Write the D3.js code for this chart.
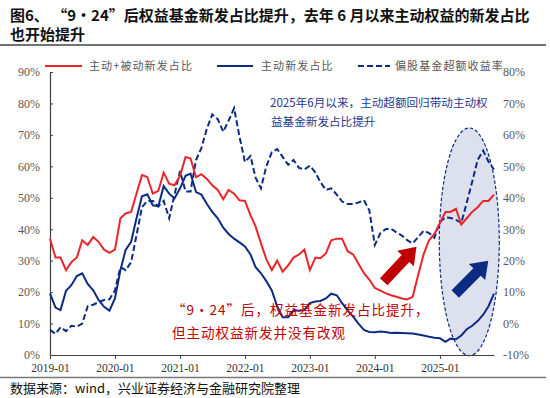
<!DOCTYPE html>
<html>
<head>
<meta charset="utf-8">
<script src="https://cdn.jsdelivr.net/npm/d3@7"></script>
<style>
body{margin:0;background:#fff}
svg{display:block}
</style>
</head>
<body>
<div id="chart"></div>
<script>
// monthly categories 2019-01 .. 2025-11
var months = d3.timeMonth.range(new Date(2019,0,1), new Date(2025,11,1));

// 主动+被动新发占比 (left axis, %)
var totalShare = [37,31,31,27,29.5,31,36.5,35,37.5,36,33.5,32.5,
    33.5,43.5,45,45.5,51.3,57.2,56.6,51.3,52.2,58,54.5,54,
    57,63,62.5,56.5,57.5,56,54,52.5,49.5,52.5,51.3,49.2,
    49,44.5,41,35.5,30.5,27,30,26.5,28.5,31,32,33.5,
    27,31,30.8,32.3,36.5,37,37,33,32,29,26,24,
    21.3,20.5,19.7,19,18.5,18,17.7,18.5,25.5,32,36.5,38.5,
    42,45.5,45.5,46.5,41.5,43.5,45.5,47,49,49,51];

// 主动新发占比 (left axis, %)
var activeShare = [19.6,15.1,14.3,20.4,22.2,25.1,26,22.6,20.6,17.5,15.3,14.1,
    18,27,33.4,36,43.4,50.5,51.1,47.6,47.3,53.7,51.3,49.8,
    53,57,57.7,51.8,51,48,45.5,43.5,40.5,38.5,37,35.8,
    34.5,32,28,26,23.5,20.5,15.5,12,12,14.2,14.1,14.3,
    16.5,17,17.2,18,19.5,19,16.5,14.2,12.2,10,8,7.3,
    7.2,7.5,7.3,7,7.1,7,6.9,6.8,6.5,6.2,5.8,5.5,
    5.3,4.2,5.2,5,6.2,8.2,9.3,10.8,12.8,15.5,19.5];

// 偏股基金超额收益率 (right axis, %)
var excessReturn = [-2,-3.3,-1.2,-2.4,-0.7,-1,0,5.5,6,6.8,7.5,7.7,
    10.5,18,17,19.5,28,37,39,39,37.3,39,33.5,41,
    48.5,42,42,52,55.8,62,66.5,65,61,64.5,68.5,59.5,
    51.4,53.3,46.5,43,50,54.5,55.5,53,50.5,52,49.5,49,
    50.2,48,45,42.5,43,41,38.8,38,38,38.5,39.2,36,
    25,28.7,30,30.2,29,28,26.5,25.5,27.5,29.5,28.8,27.3,
    32.3,33.8,33.6,33,32,38.5,45,52,55,51.5,49];

var leftTicks = [0,10,20,30,40,50,60,70,80,90];
var rightTicks = [-10,0,10,20,30,40,50,60,70,80];
var yearTicks = ["2019-01","2020-01","2021-01","2022-01","2023-01","2024-01","2025-01"];
var legendNames = ["主动+被动新发占比","主动新发占比","偏股基金超额收益率"];

var W = 550, H = 398;
var RED = "#e8262b", NAVY = "#0c2c84", DARKRED = "#c00000";
var CJK = "'Noto Sans CJK SC', sans-serif";
var SERIF = "'Liberation Serif', 'DejaVu Serif', serif";

var svg = d3.select("#chart").append("svg")
    .attr("width", W).attr("height", H);

// title
var title = svg.append("g").attr("font-family", CJK).attr("font-weight", "bold")
    .attr("font-size", 15).attr("fill", "#111");
title.append("text").attr("x", 10).attr("y", 21)
    .text("图6、 “9·24”后权益基金新发占比提升，去年 6 月以来主动权益的新发占比");
title.append("text").attr("x", 10).attr("y", 40).text("也开始提升");
svg.append("line").attr("x1", 0).attr("x2", 546).attr("y1", 45).attr("y2", 45)
    .attr("stroke", "#444").attr("stroke-width", 1.5);

// scales
var parse = d3.timeParse("%Y-%m");
var x = d3.scaleTime().domain([months[0], months[months.length-1]]).range([50, 494]);
var yL = d3.scaleLinear().domain([0, 90]).range([355, 72]);
var yR = d3.scaleLinear().domain([-10, 80]).range([355, 72]);

// highlight ellipse (behind lines)
var ec = {date: new Date(2025,5,15), v: 36};
svg.append("ellipse")
    .attr("cx", x(ec.date)).attr("cy", yL(ec.v))
    .attr("rx", 30).attr("ry", yL(0) - yL(36.2))
    .attr("fill", "#dde1ee").attr("stroke", NAVY)
    .attr("stroke-width", 1.2).attr("stroke-dasharray", "3.5,2");

// axes
var xAxis = d3.axisBottom(x)
    .tickValues(yearTicks.map(parse))
    .tickFormat(d3.timeFormat("%Y-%m"))
    .tickSize(4).tickSizeOuter(0);
var gx = svg.append("g").attr("transform", "translate(0," + yL(0) + ")").call(xAxis);
gx.select(".domain").attr("stroke", "#404040").attr("stroke-width", 1.2);
gx.selectAll(".tick line").attr("stroke", "#404040");
gx.selectAll("text").attr("font-family", SERIF).attr("font-size", 11.5)
    .attr("fill", "#333").attr("dy", "0.9em");

var yAxisL = d3.axisLeft(yL).tickValues(leftTicks).tickFormat(function(d){ return d + "%"; })
    .tickSize(-3).tickSizeOuter(0).tickPadding(10);
var gy = svg.append("g").attr("transform", "translate(50,0)").call(yAxisL);
gy.select(".domain").attr("stroke", "#404040").attr("stroke-width", 1.2);
gy.selectAll(".tick line").attr("stroke", "#404040");
gy.selectAll("text").attr("font-family", SERIF).attr("font-size", 12).attr("fill", "#595959");

var yAxisR = d3.axisRight(yR).tickValues(rightTicks).tickFormat(function(d){ return d + "%"; })
    .tickSize(0).tickPadding(9);
var gr = svg.append("g").attr("transform", "translate(494,0)").call(yAxisR);
gr.select(".domain").remove();
gr.selectAll("text").attr("font-family", SERIF).attr("font-size", 12).attr("fill", "#595959");

// lines
var lineL = d3.line().x(function(d, i){ return x(months[i]); }).y(function(d){ return yL(d); });
var lineR = d3.line().x(function(d, i){ return x(months[i]); }).y(function(d){ return yR(d); });

svg.append("path").datum(excessReturn).attr("d", lineR)
    .attr("fill", "none").attr("stroke", NAVY).attr("stroke-width", 2)
    .attr("stroke-dasharray", "6,3");
svg.append("path").datum(activeShare).attr("d", lineL)
    .attr("fill", "none").attr("stroke", NAVY).attr("stroke-width", 2);
svg.append("path").datum(totalShare).attr("d", lineL)
    .attr("fill", "none").attr("stroke", RED).attr("stroke-width", 2);

// block arrows
function arrow(x0, y0, x1, y1, color){
    var dx = x1 - x0, dy = y1 - y0, len = Math.sqrt(dx*dx + dy*dy);
    var ux = dx/len, uy = dy/len, nx = -uy, ny = ux;
    var w = 5.2, hw = 11.5, hl = 16;
    var bx = x1 - ux*hl, by = y1 - uy*hl;
    var pts = [
        [x0 + nx*w, y0 + ny*w], [bx + nx*w, by + ny*w], [bx + nx*hw, by + ny*hw],
        [x1, y1],
        [bx - nx*hw, by - ny*hw], [bx - nx*w, by - ny*w], [x0 - nx*w, y0 - ny*w]
    ];
    svg.append("polygon").attr("points", pts.map(function(p){ return p.join(","); }).join(" "))
        .attr("fill", color);
}
arrow(x(new Date(2024,1,20)), yL(23.3), x(new Date(2024,7,22)), yL(34.4), DARKRED);
arrow(x(new Date(2025,2,28)), yL(19.4), x(new Date(2025,8,30)), yL(30), NAVY);

// legend
var legend = svg.append("g").attr("font-family", CJK).attr("font-size", 11)
    .attr("fill", "#595959").attr("letter-spacing", 1.1);
var legendItems = [
    {x1: 45, x2: 82, tx: 89, color: RED, dash: null},
    {x1: 217, x2: 253, tx: 261, color: NAVY, dash: null},
    {x1: 358, x2: 390, tx: 395, color: NAVY, dash: "6,3"}
];
legendItems.forEach(function(it, i){
    legend.append("line").attr("x1", it.x1).attr("x2", it.x2).attr("y1", 66).attr("y2", 66)
        .attr("stroke", it.color).attr("stroke-width", 2.2)
        .attr("stroke-dasharray", it.dash);
    legend.append("text").attr("x", it.tx).attr("y", 70).text(legendNames[i]);
});

// annotations
var noteBlue = svg.append("g").attr("font-family", CJK).attr("font-size", 11.6)
    .attr("fill", "#1f3a8f");
noteBlue.append("text").attr("x", 270).attr("y", 107).text("2025年6月以来，主动超额回归带动主动权");
noteBlue.append("text").attr("x", 271).attr("y", 126).text("益基金新发占比提升");

var noteRed = svg.append("g").attr("font-family", CJK).attr("font-size", 13.5)
    .attr("fill", DARKRED).attr("letter-spacing", 1);
noteRed.append("text").attr("x", 172).attr("y", 315).text("“9·24”后，权益基金新发占比提升，");
noteRed.append("text").attr("x", 172).attr("y", 338).text("但主动权益新发并没有改观");

// footer
svg.append("line").attr("x1", 0).attr("x2", 546).attr("y1", 377.5).attr("y2", 377.5)
    .attr("stroke", "#777").attr("stroke-width", 1.5);
svg.append("text").attr("x", 10).attr("y", 393).attr("font-family", CJK)
    .attr("font-size", 13).attr("fill", "#111")
    .text("数据来源：wind，兴业证券经济与金融研究院整理");
</script>
</body>
</html>
